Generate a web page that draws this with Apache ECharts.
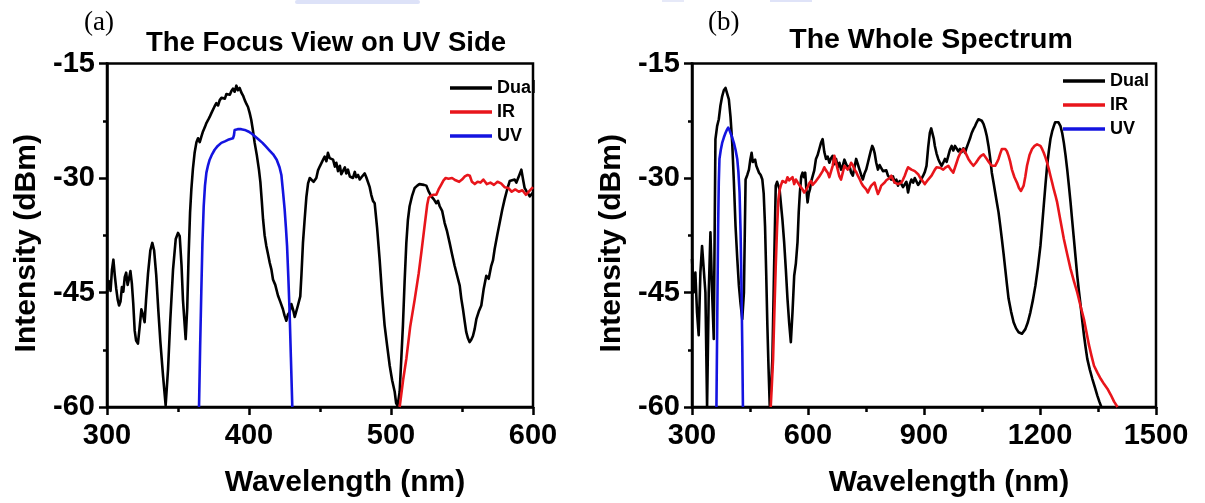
<!DOCTYPE html>
<html>
<head>
<meta charset="utf-8">
<script src="https://cdn.jsdelivr.net/npm/echarts@6/dist/echarts.min.js"></script>
<style>
  html, body { margin: 0; padding: 0; background: #fff; }
  #chart { width: 1205px; height: 503px; }
</style>
</head>
<body>
<div id="chart"></div>
<script>
// Axis ranges and tick labels
const yTicks = [-60, -45, -30, -15];
const xRangeFocus = [300, 600];
const xRangeWhole = [300, 1500];

// (a) Focus view on the UV side: [wavelength nm, intensity dBm]
const dualFocus = [
  [300,-45.0],[301.2,-43.5],[302.5,-44.8],[303.5,-42.0],[304.5,-40.7],[305.5,-42.8],[306.5,-44.5],
  [307.5,-45.9],[308.5,-46.7],[309.5,-46.2],[310.5,-44.3],[311.5,-44.9],[312.5,-43.0],[313.5,-42.4],
  [314.5,-44.0],[315.5,-43.2],[316.5,-42.2],[317.5,-43.8],[318.5,-46.5],[319.5,-50.0],[320.5,-51.3],
  [321.8,-51.7],[323.0,-49.5],[324.2,-47.2],[325.2,-47.8],[326.5,-48.9],[327.5,-46.0],[328.9,-42.5],
  [330.5,-39.5],[331.9,-38.5],[333.2,-39.5],[334.7,-42.8],[336.2,-47.5],[337.6,-51.5],[339.5,-56.0],
  [341.3,-59.8],[343.0,-55.0],[344.6,-48.5],[346.5,-42.0],[348.4,-38.0],[350.0,-37.2],[351.2,-37.6],
  [352.5,-41.5],[353.5,-46.0],[355.4,-51.1],[356.5,-47.0],[357.5,-40.0],[358.5,-34.5],[359.4,-31.5],
  [360.5,-28.8],[361.7,-26.7],[363.0,-25.3],[364.1,-24.8],[365.3,-25.3],[366.4,-24.6],[367.6,-23.9],
  [369.0,-23.3],[370.0,-22.8],[371.2,-22.4],[372.3,-22.0],[373.5,-21.5],[374.6,-21.3],[375.8,-20.6],
  [377.0,-20.2],[378.2,-20.5],[379.4,-19.8],[380.6,-19.5],[381.7,-19.3],[383.0,-19.6],[384.1,-19.0],
  [385.2,-18.9],[386.5,-19.1],[387.6,-18.6],[388.7,-18.3],[389.9,-18.7],[391.1,-17.9],[392.2,-18.5],
  [393.4,-18.2],[394.6,-18.8],[395.8,-19.2],[397.0,-19.8],[398.2,-20.3],[399.3,-20.7],[400.5,-21.5],
  [401.6,-22.4],[402.8,-23.8],[404.0,-25.4],[405.5,-27.0],[407.0,-28.9],[408.0,-30.5],[409.0,-33.0],
  [409.9,-35.4],[411.0,-37.5],[412.2,-38.9],[413.4,-40.0],[414.6,-41.1],[415.8,-42.0],[416.9,-43.3],
  [418.5,-44.0],[420.4,-45.4],[422.0,-46.2],[423.9,-47.2],[425.0,-48.0],[426.3,-48.7],[427.4,-47.9],
  [428.6,-47.6],[429.8,-46.5],[431.0,-47.2],[432.2,-48.2],[433.3,-48.0],[434.3,-46.8],[435.2,-47.0],
  [436.1,-45.5],[436.9,-42.8],[438.0,-38.5],[439.2,-35.4],[440.4,-32.5],[441.6,-30.7],[442.8,-30.0],
  [443.9,-30.2],[445.5,-30.5],[447.4,-30.0],[448.6,-29.0],[449.8,-28.5],[451.0,-28.6],[452.2,-27.6],
  [453.3,-27.2],[454.5,-27.8],[455.6,-26.7],[456.8,-27.4],[458.0,-27.2],[459.2,-27.6],[460.5,-28.5],
  [461.5,-28.0],[462.7,-29.1],[464.0,-28.4],[465.0,-29.5],[466.2,-29.3],[467.5,-28.6],[468.5,-29.4],
  [469.7,-28.9],[471.0,-29.8],[472.0,-29.6],[473.2,-30.0],[474.5,-29.2],[475.5,-29.9],[476.8,-29.6],
  [478.0,-30.2],[479.2,-29.9],[480.3,-30.1],[481.5,-29.4],[482.6,-29.9],[483.8,-29.8],[485.0,-31.2],
  [486.1,-32.2],[487.3,-33.0],[488.5,-33.3],[490.2,-36.5],[492.0,-40.7],[493.8,-45.5],[495.5,-49.3],
  [497.3,-52.0],[499.1,-54.6],[500.8,-56.5],[502.6,-58.0],[503.6,-59.5],[504.5,-59.8],[505.3,-59.0],
  [506.1,-58.0],[507.3,-53.5],[508.4,-49.3],[509.6,-43.5],[510.8,-38.5],[511.9,-35.5],[513.1,-33.7],
  [514.9,-32.3],[516.7,-31.3],[518.5,-31.0],[520.0,-30.8],[521.4,-30.7],[523.2,-30.9],[524.9,-31.0],
  [526.6,-31.8],[528.4,-32.4],[530.2,-32.8],[531.9,-33.3],[533.1,-33.0],[534.3,-33.7],[536.0,-34.3],
  [537.8,-35.9],[539.5,-37.0],[541.3,-38.5],[543.0,-40.0],[544.8,-41.5],[546.6,-42.8],[548.4,-44.1],
  [549.5,-45.8],[550.7,-47.2],[551.9,-48.8],[553.0,-50.2],[554.2,-51.0],[555.4,-51.5],[556.5,-51.2],
  [557.7,-50.7],[558.9,-49.8],[560.1,-48.5],[561.8,-47.5],[563.6,-46.7],[565.3,-44.5],[567.1,-42.8],
  [568.8,-43.2],[570.6,-41.5],[571.8,-40.8],[573.0,-39.3],[574.8,-37.5],[576.5,-35.9],[578.3,-34.2],
  [580.0,-32.8],[581.8,-31.5],[583.6,-30.4],[585.3,-30.3],[587.1,-30.2],[588.3,-30.6],[589.4,-30.4],
  [590.6,-29.5],[591.8,-28.9],[593.0,-30.2],[594.1,-31.3],[595.3,-31.7],[596.5,-32.0],[597.7,-32.4],
  [598.8,-32.4],[600,-31.9]
];
const irFocus = [
  [506.1,-60],[508.5,-56.5],[510.8,-53.7],[513.5,-49.5],[516.7,-45.9],[519.5,-42.5],[521.4,-39.7],
  [523.5,-36.5],[525.5,-33.5],[526.5,-32.6],[528.4,-32.3],[530.0,-32.2],[531.9,-32.2],[533.5,-31.5],
  [535.0,-31.0],[537.0,-30.3],[538.5,-30.0],[540.5,-30.1],[543.0,-30.0],[545.5,-30.3],[548.0,-30.5],
  [550.0,-30.2],[552.0,-29.8],[554.0,-29.6],[555.5,-29.7],[557.0,-30.5],[559.0,-30.8],[561.0,-30.5],
  [563.0,-30.6],[565.0,-30.2],[567.5,-30.8],[570.0,-30.6],[572.5,-30.9],[575.0,-30.5],[577.5,-30.7],
  [580.0,-31.2],[582.5,-31.3],[585.0,-31.8],[587.5,-31.5],[590.0,-31.8],[592.5,-31.6],[595.0,-32.2],
  [597.5,-31.7],[600.0,-31.2]
];
const uvFocus = [
  [364.8,-60],[365.6,-52],[366.4,-45.0],[367.2,-38.5],[368.1,-33.7],[369.0,-31.0],[370.0,-29.3],
  [371.2,-28.3],[372.3,-27.6],[374.0,-26.9],[375.8,-26.3],[378.0,-25.8],[380.5,-25.4],[383.0,-25.2],
  [385.2,-25.0],[388.7,-24.8],[389.4,-24.4],[389.9,-23.7],[392.0,-23.6],[394.5,-23.6],[397.0,-23.7],
  [399.5,-23.9],[402.0,-24.2],[404.5,-24.6],[407.0,-25.0],[409.5,-25.4],[412.0,-25.9],[414.5,-26.4],
  [417.0,-26.9],[419.5,-27.6],[421.5,-28.6],[422.8,-29.6],[423.8,-31.5],[425.1,-34.1],[426.0,-36.5],
  [426.8,-38.9],[427.7,-43.0],[428.6,-47.6],[429.5,-53.5],[430.5,-60]
];

// (b) Whole spectrum: [wavelength nm, intensity dBm]
const dualWhole = [
  [300,-40.6],[304.3,-45.0],[308.7,-42.4],[313.0,-47.6],[317.3,-50.6],[321.7,-42.4],[326.0,-38.9],
  [330.3,-38.9],[334.7,-45.0],[339.0,-60],[343.3,-45.0],[347.7,-37.1],[352.0,-45.0],[356.3,-51.1],
  [360.6,-24.9],[365.0,-23.2],[369.3,-22.3],[373.6,-20.5],[378.0,-19.3],[382.3,-18.5],[386.6,-18.2],
  [391.0,-18.4],[395.3,-19.7],[399.6,-22.0],[404.0,-25.4],[408.3,-30.5],[412.6,-36.3],[417.0,-40.5],
  [421.3,-44.1],[425.6,-46.5],[430.0,-48.5],[434.3,-45.0],[438.6,-30.2],[443.0,-29.6],[447.3,-28.9],
  [450.8,-27.6],[454.2,-26.7],[457.3,-27.9],[460.3,-28.0],[463.3,-27.6],[466.3,-28.4],[469.8,-28.6],
  [473.3,-29.3],[477.6,-29.6],[481.9,-30.2],[485.4,-32.0],[488.9,-36.3],[491.9,-42.5],[494.9,-49.3],
  [498.0,-55.0],[501.0,-59.8],[504.5,-57.5],[507.9,-53.7],[512.2,-42.0],[516.6,-31.0],[520.0,-30.5],
  [523.5,-30.6],[526.5,-31.5],[529.6,-33.2],[533.9,-35.5],[538.3,-38.4],[542.6,-41.9],[546.9,-45.8],
  [551.3,-49.0],[555.6,-51.5],[560.0,-47.5],[564.3,-42.8],[568.6,-41.2],[572.9,-38.4],[576.0,-34.5],
  [579.0,-31.9],[582.5,-29.8],[585.9,-29.3],[589.3,-29.9],[592.8,-29.3],[595.8,-31.5],[598.9,-33.2],
  [602.0,-32.0],[605.0,-31.5],[608.5,-30.4],[611.9,-30.2],[616.2,-29.0],[620.6,-27.5],[624.9,-27.0],
  [629.2,-26.2],[633.6,-25.4],[637.9,-24.9],[642.2,-26.6],[646.6,-27.5],[650.9,-27.2],[655.2,-28.0],
  [659.6,-27.4],[663.9,-27.1],[668.2,-28.2],[672.6,-27.5],[676.9,-28.6],[681.2,-28.0],[685.5,-28.9],
  [689.9,-28.4],[694.2,-27.6],[698.5,-27.5],[702.9,-28.7],[707.2,-28.4],[711.5,-29.3],[715.9,-29.7],
  [720.2,-28.6],[724.5,-27.5],[728.9,-28.2],[733.2,-28.9],[737.5,-29.6],[741.9,-30.2],[746.2,-29.4],
  [750.5,-28.9],[754.9,-28.0],[759.2,-27.1],[762.6,-26.4],[766.1,-25.8],[769.1,-26.1],[772.2,-26.7],
  [776.5,-28.0],[780.9,-28.9],[785.2,-28.3],[789.5,-28.4],[793.9,-29.1],[798.2,-29.3],[802.5,-29.0],
  [806.8,-29.7],[811.2,-29.6],[815.5,-30.2],[819.8,-29.8],[824.2,-30.6],[828.5,-30.2],[832.8,-31.0],
  [837.2,-30.4],[841.5,-30.6],[845.8,-31.2],[850.2,-31.0],[854.5,-30.5],[858.8,-31.9],[863.2,-30.8],
  [867.5,-30.2],[872.0,-30.6],[876.2,-30.0],[880.5,-30.2],[884.8,-30.9],[889.2,-30.6],[893.5,-30.1],
  [897.8,-29.7],[902.2,-29.2],[906.5,-28.4],[910.8,-26.0],[915.1,-24.1],[918.6,-23.5],[922.1,-23.6],
  [925.1,-24.8],[928.1,-25.8],[932.5,-26.8],[936.8,-27.5],[941.1,-28.0],[945.5,-28.4],[949.8,-28.0],
  [954.1,-27.5],[958.5,-27.9],[962.8,-27.1],[967.1,-26.3],[971.5,-25.8],[975.8,-26.4],[980.1,-25.8],
  [984.5,-26.0],[988.8,-26.5],[993.1,-26.2],[997.4,-26.6],[1001.8,-26.1],[1006.1,-26.7],[1010.4,-26.0],
  [1014.8,-25.4],[1019.1,-24.8],[1023.4,-24.1],[1027.8,-23.6],[1032.1,-23.2],[1036.4,-22.7],[1040.8,-22.3],
  [1045.1,-22.2],[1049.4,-22.5],[1053.8,-22.9],[1058.1,-23.6],[1062.4,-24.5],[1066.8,-25.8],[1071.1,-27.4],
  [1075.4,-29.3],[1079.8,-30.6],[1084.1,-31.9],[1088.4,-33.2],[1092.8,-34.5],[1097.1,-36.2],[1101.4,-38.0],
  [1105.8,-39.9],[1110.1,-41.9],[1114.4,-43.9],[1118.7,-45.8],[1125.2,-47.5],[1131.7,-48.9],[1138.2,-49.7],
  [1144.7,-50.2],[1149.0,-50.4],[1153.4,-50.4],[1157.7,-50.2],[1162.1,-49.8],[1168.6,-48.9],[1175.1,-47.6],
  [1181.6,-46.0],[1188.1,-44.1],[1194.6,-41.7],[1201.1,-38.9],[1205.4,-36.3],[1209.7,-33.6],[1214.1,-30.9],
  [1218.4,-28.4],[1222.7,-26.5],[1227.0,-24.9],[1231.4,-23.9],[1235.7,-23.2],[1239.2,-22.7],[1242.6,-22.5],
  [1247.8,-22.7],[1253.0,-23.2],[1257.4,-24.1],[1261.7,-25.4],[1266.0,-27.0],[1270.4,-28.9],[1274.7,-31.0],
  [1279.0,-33.2],[1283.3,-35.6],[1287.7,-38.0],[1292.0,-40.4],[1296.3,-42.8],[1300.6,-44.8],[1305.0,-46.7],
  [1309.3,-48.7],[1313.7,-50.6],[1318.0,-52.2],[1322.3,-53.7],[1328.8,-55.1],[1335.3,-56.3],[1341.8,-57.4],
  [1348.3,-58.5],[1353.5,-59.3],[1358.7,-60]
];
const irWhole = [
  [503.6,-60],[506.6,-57.0],[509.7,-53.7],[513.1,-47.5],[516.6,-41.5],[520.0,-36.5],[523.5,-32.8],
  [526.5,-31.6],[529.6,-31.0],[533.9,-30.4],[538.3,-30.2],[542.6,-30.6],[546.9,-29.9],[551.3,-30.3],
  [555.6,-30.4],[560.0,-29.9],[564.3,-30.8],[568.6,-30.2],[572.9,-30.4],[577.3,-30.9],[581.6,-31.0],
  [585.9,-31.5],[590.2,-31.9],[594.5,-31.6],[598.9,-31.2],[603.2,-30.7],[607.6,-30.4],[611.9,-30.9],
  [616.2,-30.8],[620.6,-30.4],[624.9,-30.2],[629.2,-29.8],[633.6,-29.7],[637.9,-29.1],[642.2,-28.6],
  [646.6,-29.0],[650.9,-29.3],[655.2,-29.9],[659.6,-29.7],[663.9,-28.4],[668.2,-27.1],[672.6,-28.0],
  [676.9,-28.9],[681.2,-29.8],[685.5,-30.2],[689.9,-29.3],[694.2,-28.4],[698.5,-28.5],[702.9,-28.9],
  [707.2,-28.6],[711.5,-28.0],[715.9,-28.3],[720.2,-28.9],[724.5,-29.2],[728.9,-29.7],[733.2,-30.1],
  [737.5,-30.6],[741.9,-31.0],[746.2,-31.2],[750.5,-31.5],[754.9,-31.9],[759.2,-31.4],[763.5,-31.0],
  [767.9,-30.8],[772.2,-30.6],[776.5,-31.4],[780.9,-32.1],[785.2,-31.6],[789.5,-31.0],[793.9,-30.8],
  [798.2,-30.6],[802.5,-30.3],[806.8,-30.2],[811.2,-30.0],[815.5,-29.7],[819.8,-30.2],[824.2,-30.6],
  [828.5,-30.7],[832.8,-30.8],[837.2,-30.7],[841.5,-30.6],[845.8,-30.2],[850.2,-29.7],[854.5,-29.1],
  [858.8,-28.6],[863.2,-28.7],[867.5,-28.9],[871.8,-29.0],[876.2,-29.1],[880.5,-29.3],[884.8,-29.5],
  [889.2,-29.9],[893.5,-30.2],[897.8,-30.5],[902.2,-30.8],[906.5,-30.5],[910.8,-30.2],[915.1,-30.0],
  [919.5,-29.7],[923.8,-29.3],[928.1,-28.9],[932.5,-28.6],[936.8,-28.4],[943.3,-28.7],[949.8,-28.9],
  [956.3,-28.6],[962.8,-28.4],[969.3,-28.9],[975.8,-29.3],[982.3,-28.3],[988.8,-27.3],[995.3,-26.6],
  [1001.8,-26.2],[1008.3,-26.8],[1014.8,-27.5],[1021.3,-28.0],[1027.8,-28.4],[1034.3,-28.0],[1040.8,-27.5],
  [1047.3,-27.1],[1053.8,-26.9],[1058.1,-27.1],[1062.4,-27.5],[1068.9,-28.0],[1075.4,-28.4],[1079.8,-28.5],
  [1084.1,-28.4],[1088.4,-28.0],[1092.8,-27.5],[1097.1,-26.8],[1101.4,-26.2],[1105.8,-26.0],[1110.1,-26.2],
  [1114.4,-26.5],[1118.7,-27.1],[1123.1,-27.9],[1127.4,-28.9],[1133.9,-29.9],[1140.4,-30.6],[1145.6,-31.3],
  [1150.8,-31.7],[1154.3,-31.5],[1157.7,-31.0],[1162.1,-29.8],[1166.4,-28.4],[1172.9,-27.0],[1179.4,-26.2],
  [1185.9,-25.8],[1192.4,-25.6],[1196.7,-25.6],[1201.1,-25.8],[1205.4,-26.2],[1209.7,-26.7],[1214.1,-27.3],
  [1218.4,-28.0],[1222.7,-28.8],[1227.0,-29.7],[1231.4,-30.6],[1235.7,-31.5],[1240.0,-32.3],[1244.4,-33.2],
  [1253.0,-35.6],[1261.7,-38.0],[1270.4,-40.0],[1279.0,-41.9],[1287.7,-43.5],[1296.3,-45.0],[1305.0,-46.8],
  [1313.7,-48.5],[1320.2,-50.2],[1326.7,-51.9],[1333.2,-53.3],[1339.7,-54.6],[1348.4,-55.5],[1357.0,-56.3],
  [1365.7,-57.0],[1374.3,-57.6],[1383.0,-58.4],[1391.6,-59.3],[1400.3,-60]
];
const uvWhole = [
  [363.2,-60],[365.4,-48.0],[367.6,-36.3],[369.3,-30.5],[371.0,-27.5],[374.5,-26.3],[378.0,-25.4],
  [382.3,-24.7],[386.6,-24.1],[390.1,-23.7],[393.6,-23.4],[396.6,-23.7],[399.6,-24.1],[404.0,-24.7],
  [408.3,-25.4],[412.6,-26.3],[417.0,-27.5],[420.0,-29.2],[423.0,-31.9],[425.6,-37.0],[428.2,-45.0],
  [430.0,-52.0],[431.7,-60]
];

const COLORS = { Dual: '#000000', IR: '#e8151b', UV: '#1414e0' };
const SANS = 'Arial, "Liberation Sans", sans-serif';

function xAxisFor(gridIndex, range, interval) {
  return {
    type: 'value', gridIndex, min: range[0], max: range[1], interval,
    name: 'Wavelength (nm)', nameLocation: 'middle', nameGap: 61,
    nameTextStyle: { fontFamily: SANS, fontWeight: 'bold', fontSize: 30, color: '#000', padding: [0, 0, 0, 50] },
    axisLine: { onZero: false, lineStyle: { color: '#000', width: 2.5 } },
    axisTick: { length: 8, lineStyle: { color: '#000', width: 2.5 } },
    minorTick: { show: true, splitNumber: 2, length: 5, lineStyle: { color: '#000', width: 2.5 } },
    axisLabel: { margin: 14, fontFamily: SANS, fontWeight: 'bold', fontSize: 29, color: '#000',
      formatter: v => String(v) },
    splitLine: { show: false }, minorSplitLine: { show: false }
  };
}
function yAxisFor(gridIndex) {
  return {
    type: 'value', gridIndex, min: yTicks[0], max: yTicks[yTicks.length - 1], interval: 15,
    name: 'Intensity (dBm)', nameLocation: 'middle', nameGap: 65, nameRotate: 90,
    nameTextStyle: { fontFamily: SANS, fontWeight: 'bold', fontSize: 30, color: '#000', padding: [0, 16, 0, 0] },
    axisLine: { onZero: false, lineStyle: { color: '#000', width: 2.5 } },
    axisTick: { length: 8, lineStyle: { color: '#000', width: 2.5 } },
    minorTick: { show: true, splitNumber: 2, length: 4, lineStyle: { color: '#000', width: 2.5 } },
    axisLabel: { margin: 12, fontFamily: SANS, fontWeight: 'bold', fontSize: 29, color: '#000' },
    splitLine: { show: false }, minorSplitLine: { show: false }
  };
}
function lineSeries(name, data, idx) {
  return {
    name, type: 'line', data, xAxisIndex: idx, yAxisIndex: idx,
    showSymbol: false, symbol: 'none', clip: true,
    lineStyle: { color: COLORS[name], width: 2.6, join: 'round' },
    itemStyle: { color: COLORS[name] },
    emphasis: { disabled: true }, animation: false
  };
}
function legendAt(left, top) {
  return {
    left, top, orient: 'vertical', icon: 'rect', itemWidth: 42, itemHeight: 3.5, itemGap: 4,
    data: ['Dual', 'IR', 'UV'], selectedMode: false,
    textStyle: { fontFamily: SANS, fontWeight: 'bold', fontSize: 18, lineHeight: 20, color: '#000' }
  };
}

const chart = echarts.init(document.getElementById('chart'), null, { renderer: 'canvas' });
chart.setOption({
  backgroundColor: '#fff',
  animation: false,
  grid: [
    { left: 107, right: 672, top: 63.5, bottom: 95, show: true, borderColor: '#000', borderWidth: 2.5 },
    { left: 692, right: 49, top: 63.5, bottom: 95, show: true, borderColor: '#000', borderWidth: 2.5 }
  ],
  title: [
    { text: 'The Focus View on UV Side', left: 321, top: 24, textAlign: 'center',
      textStyle: { fontFamily: SANS, fontWeight: 'bold', fontSize: 27.5, color: '#000' } },
    { text: 'The Whole Spectrum', left: 926, top: 21, textAlign: 'center',
      textStyle: { fontFamily: SANS, fontWeight: 'bold', fontSize: 28.5, color: '#000' } },
    { text: '(a)', left: 79, top: 4,
      textStyle: { fontFamily: '"Liberation Serif", "Times New Roman", serif', fontWeight: 'normal', fontSize: 27, color: '#000' } },
    { text: '(b)', left: 703, top: 4,
      textStyle: { fontFamily: '"Liberation Serif", "Times New Roman", serif', fontWeight: 'normal', fontSize: 27, color: '#000' } }
  ],
  legend: [legendAt(445, 73), legendAt(1058, 66)],
  xAxis: [xAxisFor(0, xRangeFocus, 100), xAxisFor(1, xRangeWhole, 300)],
  yAxis: [yAxisFor(0), yAxisFor(1)],
  series: [
    lineSeries('Dual', dualFocus, 0),
    lineSeries('IR', irFocus, 0),
    lineSeries('UV', uvFocus, 0),
    lineSeries('Dual', dualWhole, 1),
    lineSeries('IR', irWhole, 1),
    lineSeries('UV', uvWhole, 1)
  ],
  graphic: [
    // faint blue strips along the top edge of the page
    { type: 'rect', shape: { x: 295, y: 0, width: 125, height: 4, r: 2 }, style: { fill: '#dde2f8' }, silent: true },
    { type: 'rect', shape: { x: 662, y: 0, width: 22, height: 2 }, style: { fill: '#e6e9f8' }, silent: true },
    { type: 'rect', shape: { x: 770, y: 0, width: 42, height: 2 }, style: { fill: '#dfe3f8' }, silent: true }
  ]
});
</script>
</body>
</html>
